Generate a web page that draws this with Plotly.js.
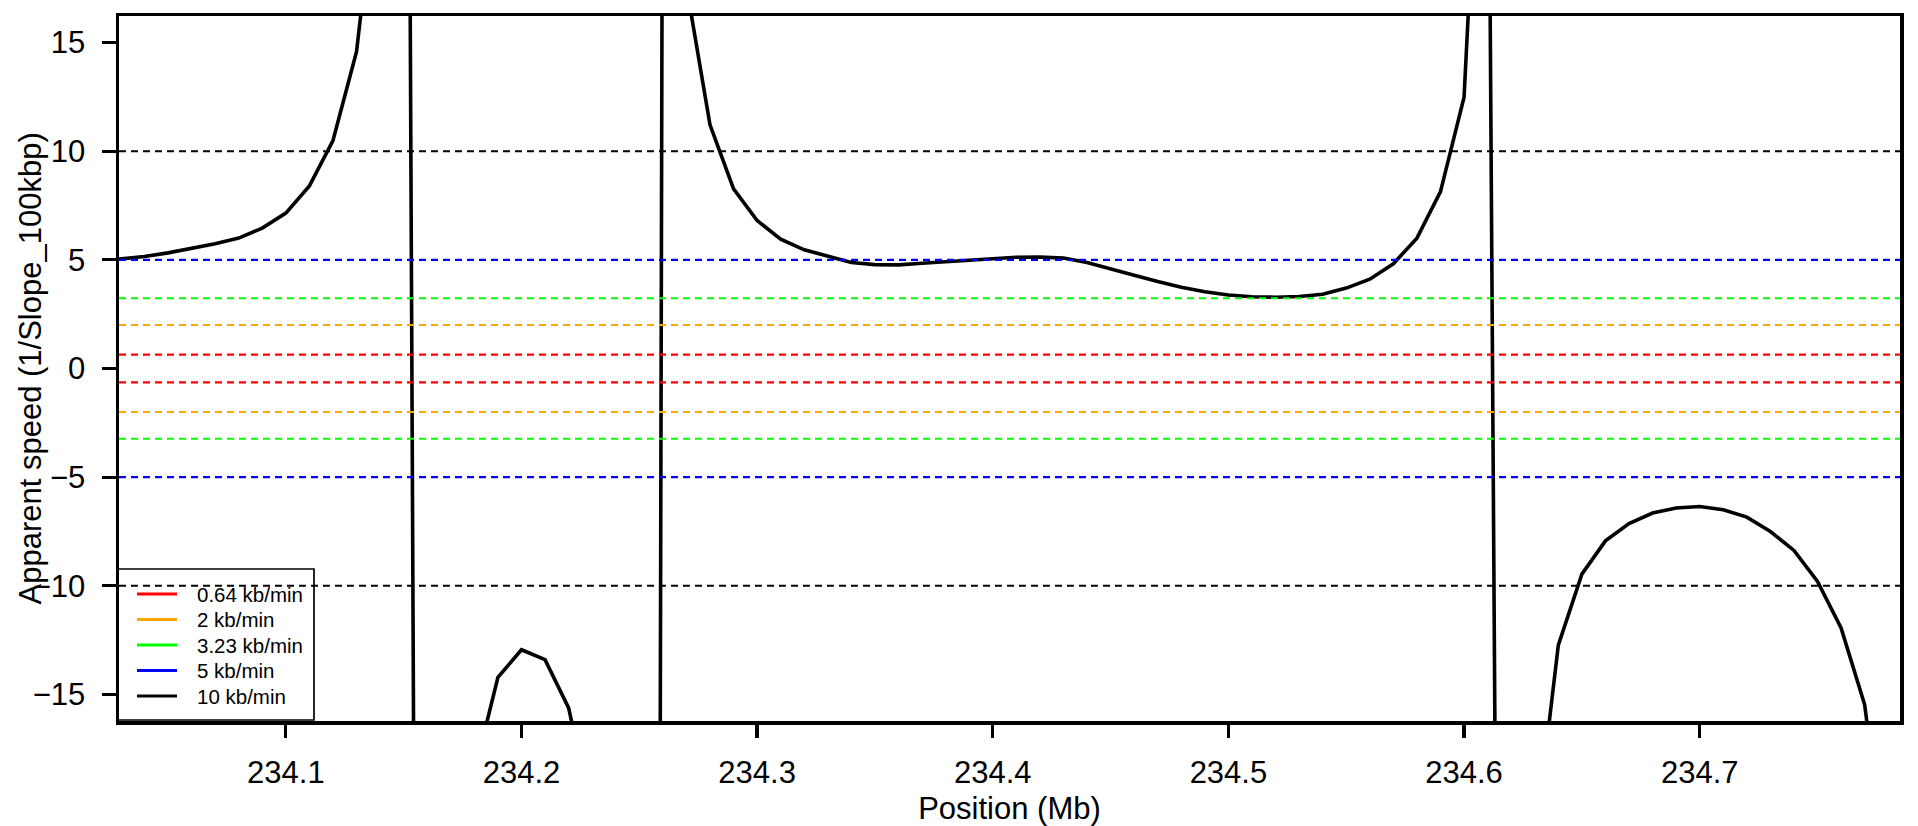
<!DOCTYPE html>
<html>
<head>
<meta charset="utf-8">
<script src="https://cdn.plot.ly/plotly-3.0.1.min.js"></script>
<style>
html,body{margin:0;padding:0;background:#ffffff;}
#chart{width:1918px;height:826px;}
</style>
</head>
<body>
<div id="chart"></div>
<script>
// Position along the chromosome (Mb)
const positionMb = [
  234.02, 234.03, 234.04, 234.05, 234.06, 234.07, 234.08, 234.09, 234.10, 234.11,
  234.12, 234.13, 234.14, 234.15, 234.16, 234.17, 234.18, 234.19, 234.20, 234.21,
  234.22, 234.23, 234.24, 234.25, 234.26, 234.27, 234.28, 234.29, 234.30, 234.31,
  234.32, 234.33, 234.34, 234.35, 234.36, 234.37, 234.38, 234.39, 234.40, 234.41,
  234.42, 234.43, 234.44, 234.45, 234.46, 234.47, 234.48, 234.49, 234.50, 234.51,
  234.52, 234.53, 234.54, 234.55, 234.56, 234.57, 234.58, 234.59, 234.60, 234.61,
  234.62, 234.63, 234.64, 234.65, 234.66, 234.67, 234.68, 234.69, 234.70, 234.71,
  234.72, 234.73, 234.74, 234.75, 234.76, 234.77, 234.78, 234.79
];

// Apparent speed (1/Slope_100kbp)
const apparentSpeed = [
  4.93, 5.05, 5.15, 5.32, 5.51, 5.74, 6.00, 6.46, 7.15, 8.40,
  10.49, 14.58, 24.0, 81.0, -151.0, -30.0, -18.6, -14.21, -12.94, -13.40,
  -15.62, -20.5, -35.0, -414.0, 33.0, 17.6, 11.21, 8.27, 6.81, 5.95,
  5.46, 5.15, 4.88, 4.78, 4.77, 4.84, 4.92, 5.00, 5.07, 5.12,
  5.13, 5.08, 4.88, 4.57, 4.29, 4.00, 3.74, 3.53, 3.38, 3.30,
  3.28, 3.31, 3.42, 3.70, 4.11, 4.82, 6.00, 8.14, 12.48, 34.0,
  -129.0, -21.9, -12.73, -9.46, -7.93, -7.14, -6.65, -6.42, -6.35, -6.50,
  -6.84, -7.50, -8.37, -9.80, -11.94, -15.47, -23.8, -40.0
];

// Reference speeds (kb/min), drawn at +/- value
const speedValues = [0.64, 2, 3.23, 5, 10];
const speedLabels = ['0.64 kb/min', '2 kb/min', '3.23 kb/min', '5 kb/min', '10 kb/min'];
const speedColors = ['#FF0000', '#FFA500', '#00FF00', '#0000FF', '#000000'];

// Tick labels
const xTicks = [234.1, 234.2, 234.3, 234.4, 234.5, 234.6, 234.7];
const xTickText = ['234.1', '234.2', '234.3', '234.4', '234.5', '234.6', '234.7'];
const yTicks = [-15, -10, -5, 0, 5, 10, 15];

const font = 'Liberation Sans, Arial, Helvetica, sans-serif';

// Plot-area geometry in pixels (used only for placing the legend box)
const W = 1918, H = 826;
const M = {l: 119, r: 18, t: 16, b: 105};
const plotW = W - M.l - M.r, plotH = H - M.t - M.b;
function px2x(px) { return (px - M.l) / plotW; }
function py2y(py) { return (H - M.b - py) / plotH; }

const traces = [{
  type: 'scatter',
  mode: 'lines',
  x: positionMb,
  y: apparentSpeed,
  line: {color: '#000000', width: 3.6},
  showlegend: false,
  hoverinfo: 'x+y'
}];

const shapes = [];
speedValues.forEach(function (v, i) {
  [v, -v].forEach(function (yy) {
    shapes.push({
      type: 'line', xref: 'paper', x0: 0, x1: 1, yref: 'y', y0: yy, y1: yy,
      line: {color: speedColors[i], width: 2.1, dash: '7px,5px'},
      layer: 'above'
    });
  });
});

// Legend (R-style box, transparent background)
const annotations = [];
shapes.push({
  type: 'rect', xref: 'paper', yref: 'paper',
  x0: px2x(118), x1: px2x(314), y0: py2y(720), y1: py2y(569),
  line: {color: '#000000', width: 1.7}, fillcolor: 'rgba(0,0,0,0)', layer: 'above'
});
const rowY = [594, 619.5, 645, 670.5, 696];
speedLabels.forEach(function (lab, i) {
  shapes.push({
    type: 'line', xref: 'paper', yref: 'paper',
    x0: px2x(137), x1: px2x(177), y0: py2y(rowY[i]), y1: py2y(rowY[i]),
    line: {color: speedColors[i], width: 3.2}, layer: 'above'
  });
  annotations.push({
    xref: 'paper', yref: 'paper', x: px2x(195), y: py2y(rowY[i]),
    xanchor: 'left', yanchor: 'middle', showarrow: false,
    text: lab, font: {size: 20.5, family: font, color: '#000000'}
  });
});

// Y-axis title placed as in the reference
annotations.push({
  xref: 'paper', yref: 'paper', x: px2x(30), y: 0.5,
  xanchor: 'center', yanchor: 'middle', showarrow: false, textangle: -90,
  text: 'Apparent speed (1/Slope_100kbp)', font: {size: 31, family: font, color: '#000000'}
});

const layout = {
  width: W,
  height: H,
  margin: {l: M.l, r: M.r, t: M.t, b: M.b, pad: 0},
  paper_bgcolor: '#ffffff',
  plot_bgcolor: '#ffffff',
  font: {family: font, color: '#000000', size: 31},
  showlegend: false,
  xaxis: {
    range: [234.0292, 234.785],
    tickmode: 'array',
    tickvals: xTicks,
    ticktext: xTickText,
    ticks: 'outside',
    ticklen: 13,
    tickwidth: 3.3,
    tickcolor: '#000000',
    ticklabelstandoff: 8,
    tickfont: {size: 31, family: font, color: '#000000'},
    showline: true,
    linewidth: 3.5,
    linecolor: '#000000',
    mirror: true,
    showgrid: false,
    zeroline: false,
    title: {text: 'Position (Mb)', font: {size: 31, family: font, color: '#000000'}, standoff: 18}
  },
  yaxis: {
    range: [-16.22, 16.22],
    tickmode: 'array',
    tickvals: yTicks,
    ticks: 'outside',
    ticklen: 14,
    tickwidth: 3.3,
    tickcolor: '#000000',
    ticklabelstandoff: 10,
    tickfont: {size: 31, family: font, color: '#000000'},
    showline: true,
    linewidth: 3.5,
    linecolor: '#000000',
    mirror: true,
    showgrid: false,
    zeroline: false
  },
  shapes: shapes,
  annotations: annotations
};

Plotly.newPlot('chart', traces, layout, {displayModeBar: false, responsive: false, staticPlot: true});
</script>
</body>
</html>
